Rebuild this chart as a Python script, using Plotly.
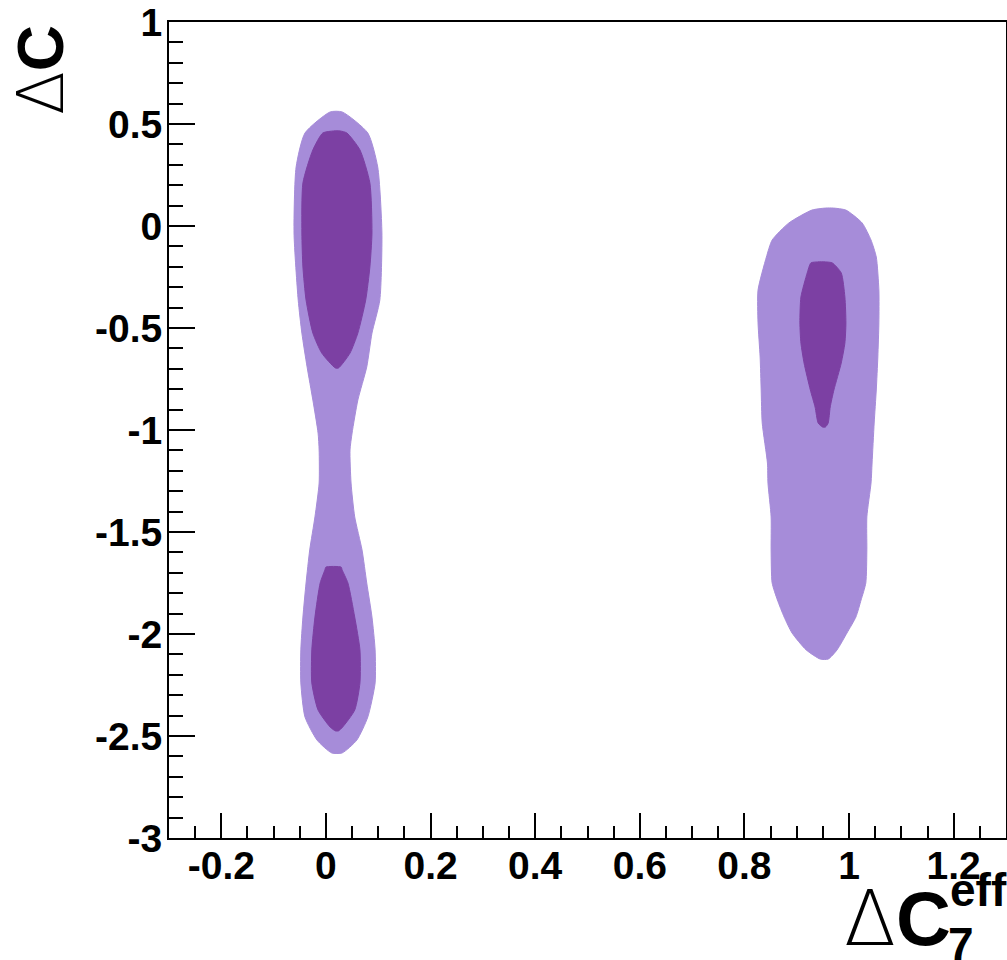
import plotly.graph_objects as go

# ---- contour boundaries (data units) ----
# each region: list of y levels, with left and right x edges at that level

# outer (light) region around dC7eff ~ 0
outer_a_y = [0.559, 0.456, 0.289, -0.034, -0.363, -0.525, -0.691, -0.853, -1.015,
             -1.098, -1.260, -1.426, -1.588, -1.750, -1.917, -2.078, -2.240, -2.407,
             -2.520, -2.583]
outer_a_xl = [0.008, -0.040, -0.057, -0.061, -0.053, -0.046, -0.036, -0.025, -0.015,
              -0.013, -0.013, -0.021, -0.031, -0.038, -0.044, -0.048, -0.048, -0.040,
              -0.017, 0.011]
outer_a_xr = [0.031, 0.080, 0.099, 0.107, 0.103, 0.088, 0.078, 0.061, 0.050,
              0.046, 0.048, 0.055, 0.069, 0.078, 0.088, 0.094, 0.094, 0.080,
              0.059, 0.031]

# inner (dark) region, upper, dC7eff ~ 0
inner_a_y = [0.466, 0.456, 0.373, 0.211, -0.034, -0.201, -0.363, -0.525, -0.623, -0.696]
inner_a_xl = [0.015, -0.006, -0.025, -0.044, -0.046, -0.044, -0.038, -0.025, -0.008, 0.018]
inner_a_xr = [0.027, 0.040, 0.065, 0.084, 0.088, 0.084, 0.076, 0.061, 0.046, 0.024]

# inner (dark) region, lower, dC7eff ~ 0
inner_b_y = [-1.672, -1.686, -1.750, -1.917, -2.078, -2.240, -2.373, -2.456, -2.475]
inner_b_xl = [0.000, -0.002, -0.011, -0.021, -0.027, -0.027, -0.015, 0.008, 0.018]
inner_b_xr = [0.029, 0.031, 0.042, 0.055, 0.065, 0.065, 0.055, 0.032, 0.024]

# outer (light) region around dC7eff ~ 0.95
outer_b_y = [0.088, 0.078, 0.015, -0.069, -0.152, -0.314, -0.475, -0.642, -0.804,
             -0.966, -1.162, -1.260, -1.426, -1.588, -1.750, -1.833, -1.917, -1.995,
             -2.078, -2.123]
outer_b_xl = [0.955, 0.929, 0.885, 0.853, 0.842, 0.826, 0.826, 0.830, 0.832,
              0.834, 0.844, 0.845, 0.851, 0.851, 0.853, 0.863, 0.876, 0.891,
              0.918, 0.945]
outer_b_xr = [0.970, 0.994, 1.025, 1.042, 1.052, 1.057, 1.057, 1.055, 1.052,
              1.048, 1.044, 1.042, 1.034, 1.034, 1.032, 1.023, 1.013, 0.996,
              0.977, 0.960]

# inner (dark) region around dC7eff ~ 0.95
inner_c_y = [-0.176, -0.181, -0.230, -0.348, -0.475, -0.574, -0.672, -0.804, -0.887,
             -0.966, -0.985]
inner_c_xl = [0.940, 0.927, 0.920, 0.908, 0.906, 0.908, 0.914, 0.926, 0.935, 0.941, 0.949]
inner_c_xr = [0.955, 0.968, 0.985, 0.992, 0.994, 0.992, 0.985, 0.971, 0.964, 0.960, 0.955]

x_tickvals = [-0.2, 0, 0.2, 0.4, 0.6, 0.8, 1.0, 1.2]
x_ticktext = ["-0.2", "0", "0.2", "0.4", "0.6", "0.8", "1", "1.2"]
y_tickvals = [-3, -2.5, -2, -1.5, -1, -0.5, 0, 0.5, 1]
y_ticktext = ["-3", "-2.5", "-2", "-1.5", "-1", "-0.5", "0", "0.5", "1"]

LIGHT = "#a68cd9"
DARK = "#7c40a3"


def region(ys, xl, xr, color):
    xs = list(xl) + list(reversed(xr)) + [xl[0]]
    yy = list(ys) + list(reversed(ys)) + [ys[0]]
    return go.Scatter(x=xs, y=yy, mode="lines", fill="toself", fillcolor=color,
                      line=dict(color=color, width=1, shape="spline", smoothing=0.6),
                      hoverinfo="skip", showlegend=False)


fig = go.Figure()
fig.add_trace(region(outer_a_y, outer_a_xl, outer_a_xr, LIGHT))
fig.add_trace(region(outer_b_y, outer_b_xl, outer_b_xr, LIGHT))
fig.add_trace(region(inner_a_y, inner_a_xl, inner_a_xr, DARK))
fig.add_trace(region(inner_b_y, inner_b_xl, inner_b_xr, DARK))
fig.add_trace(region(inner_c_y, inner_c_xl, inner_c_xr, DARK))

tickfont = dict(family="Liberation Sans", size=39, color="black", weight="bold")

fig.update_layout(
    template="none",
    width=1007, height=960,
    margin=dict(l=169, r=1, t=22, b=122, pad=0),
    paper_bgcolor="white", plot_bgcolor="white",
    xaxis=dict(range=[-0.3, 1.3], tickmode="array", tickvals=x_tickvals,
               ticktext=x_ticktext, ticks="inside", ticklen=25, tickwidth=2,
               tickcolor="black", showline=True, linecolor="black", linewidth=2,
               mirror=True, showgrid=False, zeroline=False, tickfont=tickfont,
               automargin=False, ticklabelstandoff=-8,
               minor=dict(tickmode="linear", tick0=0, dtick=0.05, ticks="inside",
                          ticklen=12, tickwidth=2, tickcolor="black", showgrid=False)),
    yaxis=dict(range=[-3, 1], tickmode="array", tickvals=y_tickvals,
               ticktext=y_ticktext, ticks="inside", ticklen=26, tickwidth=2,
               tickcolor="black", showline=True, linecolor="black", linewidth=2,
               mirror=True, showgrid=False, zeroline=False, tickfont=tickfont,
               automargin=False, ticklabelstandoff=-3,
               minor=dict(tickmode="linear", tick0=0, dtick=0.1, ticks="inside",
                          ticklen=14, tickwidth=2, tickcolor="black", showgrid=False)),
    font=dict(family="Liberation Sans", color="black"),
)

DELTA = "<span style=\"font-family:'DejaVu Sans';font-weight:200\">Δ</span>"

# axis titles
fig.add_annotation(text=DELTA + "<b>C</b>", xref="paper", yref="paper",
                   x=(41 - 169) / 837, y=(838 - 70) / 816, xanchor="center", yanchor="middle",
                   textangle=-90, showarrow=False,
                   font=dict(family="Liberation Sans", size=64, color="black"))
fig.add_annotation(text=DELTA + "<b>C</b>", xref="paper", yref="paper",
                   x=(953 - 169) / 837, y=(838 - 918) / 816, xanchor="right", yanchor="middle",
                   showarrow=False,
                   font=dict(family="Liberation Sans", size=76, color="black"))
fig.add_annotation(text="<b>eff</b>", xref="paper", yref="paper",
                   x=(948 - 169) / 837, y=(838 - 890) / 816, xanchor="left", yanchor="middle",
                   showarrow=False,
                   font=dict(family="Liberation Sans", size=46, color="black"))
fig.add_annotation(text="<b>7</b>", xref="paper", yref="paper",
                   x=(946 - 169) / 837, y=(838 - 944) / 816, xanchor="left", yanchor="middle",
                   showarrow=False,
                   font=dict(family="Liberation Sans", size=46, color="black"))

fig.write_html("out.html",
               config={"displayModeBar": False},
               post_script="document.body.style.margin='0';"
                           "document.body.style.overflow='hidden';")
